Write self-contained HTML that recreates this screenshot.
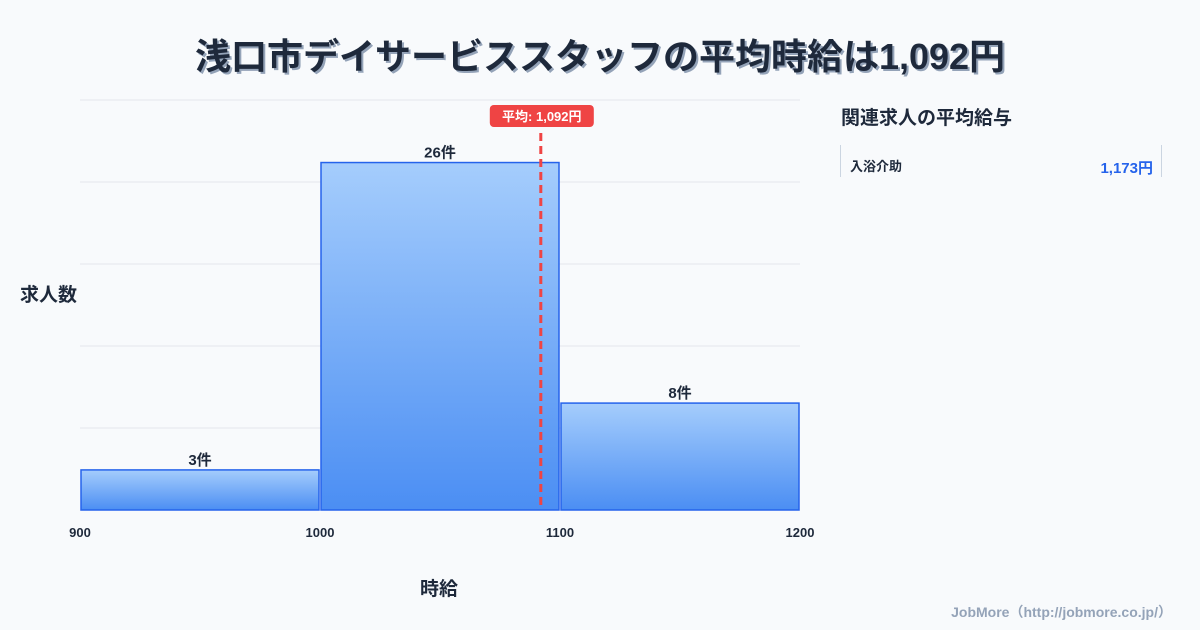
<!DOCTYPE html>
<html><head><meta charset="utf-8"><style>
body{margin:0;width:1200px;height:630px;background:#f8fafc;font-family:"Liberation Sans","Noto Sans CJK JP",sans-serif;position:relative;overflow:hidden;color:#1e293b}
.t{position:absolute;font-weight:bold}
</style></head><body>
<div class="t" style="left:0;width:1200px;top:28px;text-align:center;font-size:36px;color:#1e293b;text-shadow:2px 2px 0 #94a3b8">浅口市デイサービススタッフの平均時給は1,092円</div>
<div class="t" style="left:20px;top:280px;font-size:19px">求人数</div>
<div class="t" style="left:420px;top:574px;font-size:19px">時給</div>
<div class="t" style="left:841px;top:103px;font-size:19px">関連求人の平均給与</div>
<div style="position:absolute;left:840px;top:145px;width:320px;height:32px;border-left:1px solid #cbd5e1;border-right:1px solid #cbd5e1">
<span class="t" style="left:9px;top:11px;font-size:13px">入浴介助</span>
<span class="t" style="right:8px;top:12px;font-size:15px;color:#2563eb">1,173円</span>
</div>
<div class="t" style="right:28px;top:602px;font-size:14px;color:#94a3b8">JobMore（http://jobmore.co.jp/）</div>
<svg id="c" width="1200" height="630" style="position:absolute;left:0;top:0">
<defs><linearGradient id="g" x1="0" y1="0" x2="0" y2="1"><stop offset="0" stop-color="#a5cdfc"/><stop offset="1" stop-color="#4b8ef3"/></linearGradient></defs>
</svg>
<script>
const binStarts=[900,1000,1100];
const binEnds=[1000,1100,1200];
const counts=[3,26,8];
const xTicks=[900,1000,1100,1200];
const meanWage=[1092];
const svg=document.getElementById('c');
const NS='http://www.w3.org/2000/svg';
const x0=80,x1=800,base=510,top0=100;
const yMax=Math.max(...counts)*1.18;
const X=v=>x0+(v-900)/(1200-900)*(x1-x0);
const Y=v=>base-v/yMax*(base-top0);
function mk(t,a,txt){const e=document.createElementNS(NS,t);for(const k in a)e.setAttribute(k,a[k]);if(txt!=null)e.textContent=txt;svg.appendChild(e);return e;}
for(let i=0;i<=5;i++){const g=mk('line',{x1:x0,x2:x1,y1:top0+i*82,y2:top0+i*82,stroke:'#e5e7eb','stroke-width':1});

}
counts.forEach((c,i)=>{
const r=mk('rect',{x:X(binStarts[i])+1,y:Y(c),width:X(binEnds[i])-X(binStarts[i])-2,height:base-Y(c),fill:'url(#g)',stroke:'#2563eb','stroke-width':1.5});


const l=mk('text',{x:(X(binStarts[i])+X(binEnds[i]))/2,y:Y(c)-5,'text-anchor':'middle','font-size':15,'font-weight':'bold',fill:'#1e293b'},c+'件');


});
xTicks.forEach(v=>{const t=mk('text',{x:X(v),y:537,'text-anchor':'middle','font-size':13,'font-weight':'bold',fill:'#1e293b'},v);

});
const mx=X(meanWage[0]);
const ml=mk('line',{x1:mx,x2:mx,y1:133,y2:base,stroke:'#ef4444','stroke-width':3,'stroke-dasharray':'8,5'});


const mb=mk('rect',{x:mx-51,y:105,width:104,height:22,rx:4,fill:'#ef4444'});


const mt=mk('text',{x:mx+1,y:121,'text-anchor':'middle','font-size':13,'font-weight':'bold',fill:'#fff'},'平均: '+meanWage[0].toLocaleString('en-US')+'円');


</script>
</body></html>
